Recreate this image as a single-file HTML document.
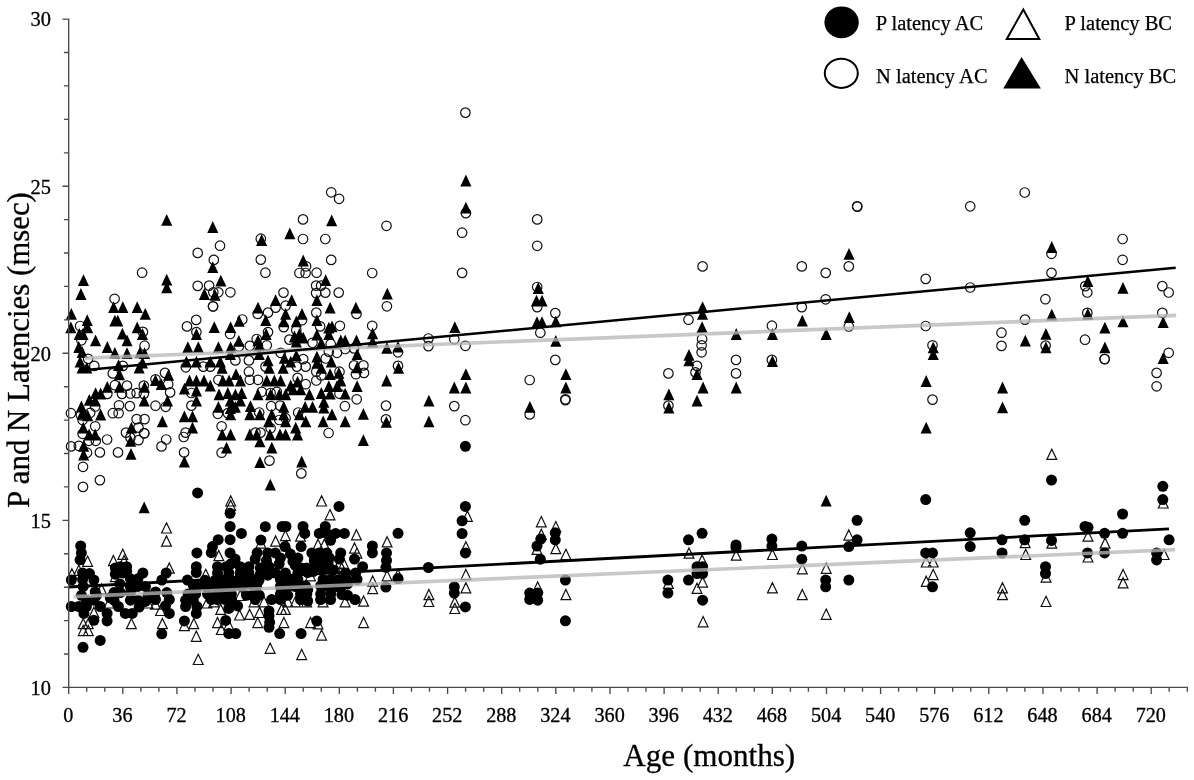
<!DOCTYPE html>
<html lang="en"><head><meta charset="utf-8"><title>P and N Latencies vs Age</title>
<style>html,body{margin:0;padding:0;background:#fff}body{width:1194px;height:780px;overflow:hidden}svg{display:block}</style></head>
<body>
<svg width="1194" height="780" viewBox="0 0 1194 780">
<rect width="1194" height="780" fill="#fff"/>
<path fill="#fff" stroke="#111" stroke-width="1.2" stroke-linejoin="miter" d="M1051.8 449.2L1056.7 459.4H1046.9ZM398 569.4L402.9 579.6H393.1ZM428.9 589.5L433.8 599.7H424ZM428.9 596.3L433.8 606.5H424ZM467.4 511.1L472.3 521.3H462.5ZM465.9 541.7L470.8 551.9H461ZM465.9 569.4L470.8 579.6H461ZM465.9 582.7L470.8 592.9H461ZM454.8 597L459.7 607.2H449.9ZM454.8 603.3L459.7 613.5H449.9ZM541.3 516.6L546.2 526.8H536.4ZM541.3 529.2L546.2 539.4H536.4ZM537 544.2L541.9 554.4H532.1ZM555.8 521.6L560.7 531.8H550.9ZM555.8 543.5L560.7 553.7H550.9ZM565.9 549.3L570.8 559.5H561ZM565.9 589.5L570.8 599.7H561ZM537.7 581.9L542.6 592.1H532.8ZM668.4 578.2L673.3 588.4H663.5ZM689 548L693.9 558.2H684.1ZM702.1 555L707 565.2H697.2ZM702.6 576.9L707.5 587.1H697.7ZM697 583.2L701.9 593.4H692.1ZM703.1 616.6L708 626.8H698.2ZM736.2 550L741.1 560.2H731.3ZM772.4 549.3L777.3 559.5H767.5ZM772.4 582.7L777.3 592.9H767.5ZM802.3 563.6L807.2 573.8H797.4ZM802.3 589.5L807.2 599.7H797.4ZM826.2 563.1L831.1 573.3H821.3ZM826.2 609.1L831.1 619.3H821.3ZM848.8 529.9L853.7 540.1H843.9ZM926.2 556.8L931.1 567H921.3ZM933.2 556.8L938.1 567H928.3ZM933.2 569.4L938.1 579.6H928.3ZM926.2 576.2L931.1 586.4H921.3ZM1002.5 582.7L1007.4 592.9H997.6ZM1002.5 589.5L1007.4 599.7H997.6ZM1025.2 537.5L1030.1 547.7H1020.3ZM1025.7 549.3L1030.6 559.5H1020.8ZM1051.8 538L1056.7 548.2H1046.9ZM1046 571.9L1050.9 582.1H1041.1ZM1046 596.3L1050.9 606.5H1041.1ZM1088 530.9L1092.9 541.1H1083.1ZM1088 551.8L1092.9 562H1083.1ZM1105.1 538L1110 548.2H1100.2ZM1123.1 569.4L1128 579.6H1118.2ZM1123.1 577.7L1128 587.9H1118.2ZM1163.3 497.8L1168.2 508H1158.4ZM1164.1 549.3L1169 559.5H1159.2ZM166.5 522.8L171.4 533H161.6ZM166.5 536L171.4 546.2H161.6ZM87.6 556.1L92.5 566.3H82.7ZM113.4 555.5L118.3 565.7H108.5ZM122.8 549.2L127.7 559.4H117.9ZM124.1 555.5L129 565.7H119.2ZM169.3 563L174.2 573.2H164.4ZM71.9 568.7L76.8 578.9H67ZM205.7 569.3L210.6 579.5H200.8ZM78.8 565.1L83.7 575.3H73.9ZM101.5 584L106.4 594.2H96.6ZM115.3 571.4L120.2 581.6H110.4ZM209.5 578.9L214.4 589.1H204.6ZM109 597.8L113.9 608H104.1ZM147.9 597.8L152.8 608H143ZM155.5 599L160.4 609.2H150.6ZM93.9 607.2L98.8 617.4H89ZM160.5 605.3L165.4 615.5H155.6ZM207 597.8L211.9 608H202.1ZM83.2 618.5L88.1 628.7H78.3ZM88.3 618.5L93.2 628.7H83.4ZM131.4 618.5L136.3 628.7H126.5ZM162.4 618.5L167.3 628.7H157.5ZM193.8 618.5L198.7 628.7H188.9ZM184.4 620.4L189.3 630.6H179.5ZM83.2 625.4L88.1 635.6H78.3ZM88.3 625.4L93.2 635.6H83.4ZM196.3 631.1L201.2 641.3H191.4ZM198.2 654.3L203.1 664.5H193.3ZM230.7 495.8L235.6 506H225.8ZM230.7 500.2L235.6 510.4H225.8ZM218.8 550.5L223.7 560.7H213.9ZM260.9 537.9L265.8 548.1H256ZM275.6 536L280.5 546.2H270.7ZM285.4 530.4L290.3 540.6H280.5ZM300.5 531L305.4 541.2H295.6ZM286.6 540.4L291.5 550.6H281.7ZM321.6 495.8L326.5 506H316.7ZM330 509.6L334.9 519.8H325.1ZM356.4 529.7L361.3 539.9H351.5ZM354.5 542.9L359.4 553.1H349.6ZM318 539.2L322.9 549.4H313.1ZM324.3 539.2L329.2 549.4H319.4ZM339.4 558L344.3 568.2H334.5ZM357 548L361.9 558.2H352.1ZM310.5 570.6L315.4 580.8H305.6ZM336.9 565.6L341.8 575.8H332ZM213.8 596.6L218.7 606.8H208.9ZM240.2 590.3L245.1 600.5H235.3ZM254 596.6L258.9 606.8H249.1ZM264 596.6L268.9 606.8H259.1ZM287.9 596.6L292.8 606.8H283ZM295.4 596.6L300.3 606.8H290.5ZM306.7 596.6L311.6 606.8H301.8ZM323.1 596.6L328 606.8H318.2ZM345.1 596.6L350 606.8H340.2ZM220.7 604.2L225.6 614.4H215.8ZM239.5 609.8L244.4 620H234.6ZM249.6 609.2L254.5 619.4H244.7ZM259.6 607.3L264.5 617.5H254.7ZM281.6 604.2L286.5 614.4H276.7ZM285.4 604.2L290.3 614.4H280.5ZM217.5 617.4L222.4 627.6H212.6ZM228.8 619.9L233.7 630.1H223.9ZM221.3 624.3L226.2 634.5H216.4ZM257.7 617.4L262.6 627.6H252.8ZM283.9 617.4L288.8 627.6H279ZM310.5 617.4L315.4 627.6H305.6ZM318 618.6L322.9 628.8H313.1ZM321.6 629.9L326.5 640.1H316.7ZM270.1 643.1L275 653.3H265.2ZM301.7 649.4L306.6 659.6H296.8ZM387.1 536.7L392 546.9H382.2ZM343.8 558.6L348.7 568.8H338.9ZM387.1 570.6L392 580.8H382.2ZM372.7 575.9L377.6 586.1H367.8ZM372.7 583.4L377.6 593.6H367.8ZM363.6 596L368.5 606.2H358.7ZM363.6 617.4L368.5 627.6H358.7Z"/>
<g fill="#000"><circle cx="465.4" cy="446.3" r="5.5"/><circle cx="398" cy="533.3" r="5.5"/><circle cx="398" cy="578.5" r="5.5"/><circle cx="428.4" cy="567.5" r="5.5"/><circle cx="465.4" cy="506.4" r="5.5"/><circle cx="462.1" cy="520.8" r="5.5"/><circle cx="462.1" cy="533.6" r="5.5"/><circle cx="465.4" cy="552.9" r="5.5"/><circle cx="454.3" cy="586.8" r="5.5"/><circle cx="454.3" cy="593.1" r="5.5"/><circle cx="465.4" cy="606.9" r="5.5"/><circle cx="540.8" cy="539.1" r="5.5"/><circle cx="537" cy="546.1" r="5.5"/><circle cx="540.3" cy="559.2" r="5.5"/><circle cx="555.3" cy="532.8" r="5.5"/><circle cx="555.3" cy="539.8" r="5.5"/><circle cx="565.4" cy="580.1" r="5.5"/><circle cx="565.4" cy="620.8" r="5.5"/><circle cx="529.7" cy="593.1" r="5.5"/><circle cx="537.7" cy="593.1" r="5.5"/><circle cx="529.7" cy="599.4" r="5.5"/><circle cx="537.7" cy="600.2" r="5.5"/><circle cx="667.9" cy="580.1" r="5.5"/><circle cx="667.9" cy="593.1" r="5.5"/><circle cx="688.5" cy="539.8" r="5.5"/><circle cx="688.5" cy="580.1" r="5.5"/><circle cx="702.1" cy="533.3" r="5.5"/><circle cx="697" cy="566.7" r="5.5"/><circle cx="702.6" cy="566.7" r="5.5"/><circle cx="697" cy="573.5" r="5.5"/><circle cx="702.6" cy="573.5" r="5.5"/><circle cx="702.6" cy="600.2" r="5.5"/><circle cx="736" cy="544.9" r="5.5"/><circle cx="736" cy="547.4" r="5.5"/><circle cx="771.9" cy="539.1" r="5.5"/><circle cx="771.9" cy="546.1" r="5.5"/><circle cx="801.8" cy="546.1" r="5.5"/><circle cx="801.8" cy="559.2" r="5.5"/><circle cx="825.7" cy="580.1" r="5.5"/><circle cx="825.7" cy="586.8" r="5.5"/><circle cx="857.1" cy="520.3" r="5.5"/><circle cx="857.1" cy="539.8" r="5.5"/><circle cx="848.8" cy="546.6" r="5.5"/><circle cx="848.8" cy="580.1" r="5.5"/><circle cx="925.7" cy="499.6" r="5.5"/><circle cx="925.7" cy="552.9" r="5.5"/><circle cx="932.5" cy="552.9" r="5.5"/><circle cx="932.5" cy="586.8" r="5.5"/><circle cx="970.2" cy="532.8" r="5.5"/><circle cx="970.2" cy="546.6" r="5.5"/><circle cx="1002" cy="539.8" r="5.5"/><circle cx="1002" cy="552.9" r="5.5"/><circle cx="1024.7" cy="520.3" r="5.5"/><circle cx="1024.7" cy="539.8" r="5.5"/><circle cx="1051.5" cy="480.1" r="5.5"/><circle cx="1051.5" cy="540.4" r="5.5"/><circle cx="1045.5" cy="566.7" r="5.5"/><circle cx="1045.5" cy="573.5" r="5.5"/><circle cx="1085" cy="526.5" r="5.5"/><circle cx="1088" cy="527.3" r="5.5"/><circle cx="1087.5" cy="552.9" r="5.5"/><circle cx="1104.6" cy="533.3" r="5.5"/><circle cx="1104.6" cy="552.9" r="5.5"/><circle cx="1122.6" cy="514" r="5.5"/><circle cx="1122.6" cy="533.3" r="5.5"/><circle cx="1162.8" cy="486.3" r="5.5"/><circle cx="1162.8" cy="499.6" r="5.5"/><circle cx="1169.1" cy="539.8" r="5.5"/><circle cx="1156.6" cy="552.9" r="5.5"/><circle cx="1156.6" cy="559.9" r="5.5"/><circle cx="197.6" cy="492.9" r="5.5"/><circle cx="80.7" cy="546" r="5.5"/><circle cx="81.4" cy="552.9" r="5.5"/><circle cx="80.1" cy="559.8" r="5.5"/><circle cx="196.9" cy="552.9" r="5.5"/><circle cx="196.3" cy="566.7" r="5.5"/><circle cx="166.2" cy="573" r="5.5"/><circle cx="142.9" cy="573" r="5.5"/><circle cx="115.3" cy="567.9" r="5.5"/><circle cx="120.3" cy="566.7" r="5.5"/><circle cx="126.6" cy="566.7" r="5.5"/><circle cx="115.3" cy="574.2" r="5.5"/><circle cx="122.8" cy="573" r="5.5"/><circle cx="82.6" cy="573" r="5.5"/><circle cx="89.5" cy="573.6" r="5.5"/><circle cx="71.3" cy="580.1" r="5.5"/><circle cx="82.6" cy="579.4" r="5.5"/><circle cx="93.9" cy="580.1" r="5.5"/><circle cx="83.2" cy="586.4" r="5.5"/><circle cx="95.2" cy="592" r="5.5"/><circle cx="126.6" cy="571.3" r="5.5"/><circle cx="130.4" cy="578.8" r="5.5"/><circle cx="137.9" cy="578.8" r="5.5"/><circle cx="130.4" cy="586.4" r="5.5"/><circle cx="137.9" cy="586.4" r="5.5"/><circle cx="145.4" cy="586.4" r="5.5"/><circle cx="161.8" cy="580.1" r="5.5"/><circle cx="187.5" cy="580.1" r="5.5"/><circle cx="196.3" cy="572.5" r="5.5"/><circle cx="193.2" cy="585.1" r="5.5"/><circle cx="198.2" cy="586.4" r="5.5"/><circle cx="114" cy="592.6" r="5.5"/><circle cx="120.3" cy="592.6" r="5.5"/><circle cx="155.5" cy="592" r="5.5"/><circle cx="166.8" cy="592.6" r="5.5"/><circle cx="188.1" cy="593.9" r="5.5"/><circle cx="195.7" cy="593.9" r="5.5"/><circle cx="93.9" cy="600.2" r="5.5"/><circle cx="86.4" cy="600.2" r="5.5"/><circle cx="114" cy="600.2" r="5.5"/><circle cx="130.4" cy="600.2" r="5.5"/><circle cx="137.9" cy="600.2" r="5.5"/><circle cx="145.4" cy="601.4" r="5.5"/><circle cx="155.5" cy="599.5" r="5.5"/><circle cx="169.3" cy="599.5" r="5.5"/><circle cx="185.6" cy="600.2" r="5.5"/><circle cx="193.2" cy="600.2" r="5.5"/><circle cx="71.3" cy="606.5" r="5.5"/><circle cx="78.8" cy="606.5" r="5.5"/><circle cx="86.4" cy="606.5" r="5.5"/><circle cx="100.2" cy="606.5" r="5.5"/><circle cx="118.4" cy="606.5" r="5.5"/><circle cx="139.1" cy="607.1" r="5.5"/><circle cx="165.5" cy="605.8" r="5.5"/><circle cx="185.6" cy="606.5" r="5.5"/><circle cx="196.9" cy="606.5" r="5.5"/><circle cx="83.9" cy="613.4" r="5.5"/><circle cx="107.1" cy="613.4" r="5.5"/><circle cx="125.3" cy="613.4" r="5.5"/><circle cx="132.2" cy="613.4" r="5.5"/><circle cx="169.3" cy="613.4" r="5.5"/><circle cx="196.3" cy="613.4" r="5.5"/><circle cx="93.9" cy="620.3" r="5.5"/><circle cx="107.1" cy="620.9" r="5.5"/><circle cx="184.4" cy="620.9" r="5.5"/><circle cx="161.8" cy="633.8" r="5.5"/><circle cx="100.2" cy="640.4" r="5.5"/><circle cx="83" cy="647.3" r="5.5"/><circle cx="230.1" cy="513.3" r="5.5"/><circle cx="230.1" cy="526.5" r="5.5"/><circle cx="241.4" cy="533.4" r="5.5"/><circle cx="230.1" cy="539.7" r="5.5"/><circle cx="218.2" cy="539.7" r="5.5"/><circle cx="212.5" cy="546.6" r="5.5"/><circle cx="230.1" cy="552.9" r="5.5"/><circle cx="235.1" cy="559.1" r="5.5"/><circle cx="265.3" cy="526.7" r="5.5"/><circle cx="260.9" cy="540.1" r="5.5"/><circle cx="282.2" cy="526.5" r="5.5"/><circle cx="286" cy="526.5" r="5.5"/><circle cx="303" cy="526.5" r="5.5"/><circle cx="304.8" cy="533.4" r="5.5"/><circle cx="285" cy="546.6" r="5.5"/><circle cx="301.1" cy="546.6" r="5.5"/><circle cx="325.3" cy="526.5" r="5.5"/><circle cx="319.3" cy="533.4" r="5.5"/><circle cx="326.8" cy="533.4" r="5.5"/><circle cx="335.6" cy="533.4" r="5.5"/><circle cx="344.4" cy="533.4" r="5.5"/><circle cx="330.6" cy="540.3" r="5.5"/><circle cx="339" cy="506.4" r="5.5"/><circle cx="340.7" cy="552.9" r="5.5"/><circle cx="257.1" cy="552.9" r="5.5"/><circle cx="267.8" cy="552.9" r="5.5"/><circle cx="275.3" cy="552.9" r="5.5"/><circle cx="255.2" cy="559.1" r="5.5"/><circle cx="266.5" cy="560.4" r="5.5"/><circle cx="280.4" cy="557.9" r="5.5"/><circle cx="290.4" cy="554.1" r="5.5"/><circle cx="297.9" cy="557.9" r="5.5"/><circle cx="311.8" cy="552.9" r="5.5"/><circle cx="319.3" cy="552.9" r="5.5"/><circle cx="326.8" cy="552.9" r="5.5"/><circle cx="329.3" cy="557.9" r="5.5"/><circle cx="314.3" cy="560.4" r="5.5"/><circle cx="321.8" cy="561.7" r="5.5"/><circle cx="339.4" cy="559.1" r="5.5"/><circle cx="354.5" cy="559.1" r="5.5"/><circle cx="217.5" cy="566.7" r="5.5"/><circle cx="226.3" cy="566.7" r="5.5"/><circle cx="240.2" cy="566.7" r="5.5"/><circle cx="248.9" cy="566.7" r="5.5"/><circle cx="217.5" cy="573" r="5.5"/><circle cx="228.8" cy="573" r="5.5"/><circle cx="240.2" cy="573" r="5.5"/><circle cx="248.9" cy="573" r="5.5"/><circle cx="260.3" cy="567.9" r="5.5"/><circle cx="269" cy="566.7" r="5.5"/><circle cx="260.3" cy="574.2" r="5.5"/><circle cx="275.3" cy="573" r="5.5"/><circle cx="285.4" cy="573" r="5.5"/><circle cx="295.4" cy="565.4" r="5.5"/><circle cx="297.9" cy="573" r="5.5"/><circle cx="306.7" cy="567.9" r="5.5"/><circle cx="314.3" cy="567.9" r="5.5"/><circle cx="323.1" cy="569.2" r="5.5"/><circle cx="329.3" cy="567.9" r="5.5"/><circle cx="345.7" cy="573" r="5.5"/><circle cx="355.7" cy="573" r="5.5"/><circle cx="221.3" cy="579.5" r="5.5"/><circle cx="238.9" cy="579.5" r="5.5"/><circle cx="254" cy="579.5" r="5.5"/><circle cx="280.4" cy="579.5" r="5.5"/><circle cx="290.4" cy="579.5" r="5.5"/><circle cx="297.9" cy="579.5" r="5.5"/><circle cx="323.1" cy="579.5" r="5.5"/><circle cx="330.6" cy="579.5" r="5.5"/><circle cx="339.4" cy="579.5" r="5.5"/><circle cx="346.9" cy="579.5" r="5.5"/><circle cx="357" cy="579.5" r="5.5"/><circle cx="215" cy="585.8" r="5.5"/><circle cx="252.7" cy="585.8" r="5.5"/><circle cx="300.5" cy="585.8" r="5.5"/><circle cx="305.5" cy="585.8" r="5.5"/><circle cx="320.6" cy="585.8" r="5.5"/><circle cx="341.9" cy="585.8" r="5.5"/><circle cx="211.3" cy="599.6" r="5.5"/><circle cx="217.5" cy="599.6" r="5.5"/><circle cx="225.1" cy="599.6" r="5.5"/><circle cx="231.4" cy="599.6" r="5.5"/><circle cx="255.2" cy="599.6" r="5.5"/><circle cx="271.6" cy="599.6" r="5.5"/><circle cx="280.4" cy="599.6" r="5.5"/><circle cx="284.1" cy="593.4" r="5.5"/><circle cx="300.5" cy="599.6" r="5.5"/><circle cx="320.6" cy="599.6" r="5.5"/><circle cx="330.6" cy="599.6" r="5.5"/><circle cx="355.1" cy="599.6" r="5.5"/><circle cx="237.6" cy="605.9" r="5.5"/><circle cx="228.8" cy="608.4" r="5.5"/><circle cx="269" cy="610.9" r="5.5"/><circle cx="269" cy="616" r="5.5"/><circle cx="269.7" cy="622.3" r="5.5"/><circle cx="269" cy="627.3" r="5.5"/><circle cx="225.7" cy="620.4" r="5.5"/><circle cx="316.8" cy="621" r="5.5"/><circle cx="228.8" cy="633.6" r="5.5"/><circle cx="235.8" cy="633.6" r="5.5"/><circle cx="279.7" cy="633.6" r="5.5"/><circle cx="301.1" cy="633.6" r="5.5"/><circle cx="372.4" cy="546" r="5.5"/><circle cx="372.4" cy="552.9" r="5.5"/><circle cx="386.5" cy="552.9" r="5.5"/><circle cx="386.5" cy="560.4" r="5.5"/><circle cx="385.9" cy="567.3" r="5.5"/><circle cx="362.6" cy="566.7" r="5.5"/><circle cx="341.9" cy="594.6" r="5.5"/><circle cx="385.9" cy="587.1" r="5.5"/><circle cx="207.5" cy="586.5" r="5.5"/><circle cx="225.1" cy="586.5" r="5.5"/><circle cx="232.7" cy="586.5" r="5.5"/><circle cx="241.5" cy="586.5" r="5.5"/><circle cx="256.5" cy="586.5" r="5.5"/><circle cx="280.4" cy="586.5" r="5.5"/><circle cx="287.9" cy="586.5" r="5.5"/><circle cx="295.5" cy="586.5" r="5.5"/><circle cx="328.1" cy="586.5" r="5.5"/><circle cx="336.9" cy="586.5" r="5.5"/><circle cx="205" cy="580.3" r="5.5"/><circle cx="230.2" cy="580.3" r="5.5"/><circle cx="250.3" cy="580.3" r="5.5"/><circle cx="259" cy="580.3" r="5.5"/><circle cx="207.5" cy="594.1" r="5.5"/><circle cx="217.6" cy="594.1" r="5.5"/><circle cx="225.1" cy="594.1" r="5.5"/><circle cx="231.4" cy="594.1" r="5.5"/><circle cx="254" cy="594.1" r="5.5"/><circle cx="280.4" cy="594.1" r="5.5"/><circle cx="300.5" cy="594.1" r="5.5"/><circle cx="306.8" cy="594.1" r="5.5"/><circle cx="320.6" cy="594.1" r="5.5"/><circle cx="330.7" cy="594.1" r="5.5"/><circle cx="328.1" cy="562.7" r="5.5"/><circle cx="300.5" cy="567.7" r="5.5"/><circle cx="333.2" cy="570.2" r="5.5"/><circle cx="313.1" cy="571.5" r="5.5"/><circle cx="244" cy="571.5" r="5.5"/><circle cx="215.1" cy="580.3" r="5.5"/><circle cx="231.4" cy="580.3" r="5.5"/><circle cx="267.8" cy="575.2" r="5.5"/><circle cx="211.3" cy="552.6" r="5.5"/><circle cx="293" cy="561.4" r="5.5"/><circle cx="81.4" cy="595.3" r="5.5"/><circle cx="96.5" cy="595.3" r="5.5"/><circle cx="110.3" cy="597.8" r="5.5"/><circle cx="130.4" cy="592.8" r="5.5"/><circle cx="148" cy="595.3" r="5.5"/><circle cx="246.5" cy="583.9" r="5.5"/><circle cx="246.5" cy="595.3" r="5.5"/><circle cx="259.3" cy="595.3" r="5.5"/><circle cx="279.2" cy="564" r="5.5"/><circle cx="287.8" cy="595.3" r="5.5"/><circle cx="307.7" cy="572.5" r="5.5"/><circle cx="307.7" cy="589.6" r="5.5"/><circle cx="307.7" cy="601" r="5.5"/><circle cx="317.7" cy="564" r="5.5"/><circle cx="347.6" cy="583.9" r="5.5"/><circle cx="347.6" cy="595.3" r="5.5"/><circle cx="230.8" cy="564" r="5.5"/><circle cx="219.5" cy="583.9" r="5.5"/><circle cx="131.2" cy="589.6" r="5.5"/><circle cx="119.8" cy="583.9" r="5.5"/></g>
<g fill="none" stroke="#111" stroke-width="1.2"><circle cx="465.4" cy="112.6" r="4.75"/><circle cx="465.9" cy="213.1" r="4.75"/><circle cx="462.1" cy="232.7" r="4.75"/><circle cx="462.1" cy="272.9" r="4.75"/><circle cx="537.2" cy="219.4" r="4.75"/><circle cx="537.2" cy="245.8" r="4.75"/><circle cx="398" cy="352.3" r="4.75"/><circle cx="398" cy="365.9" r="4.75"/><circle cx="428.4" cy="338.5" r="4.75"/><circle cx="428.4" cy="346.1" r="4.75"/><circle cx="454.3" cy="339.3" r="4.75"/><circle cx="454.3" cy="406.1" r="4.75"/><circle cx="465.4" cy="345.8" r="4.75"/><circle cx="465.4" cy="420.2" r="4.75"/><circle cx="537.2" cy="287" r="4.75"/><circle cx="537.2" cy="307.1" r="4.75"/><circle cx="540.3" cy="332.7" r="4.75"/><circle cx="555.3" cy="313.1" r="4.75"/><circle cx="555.3" cy="359.9" r="4.75"/><circle cx="529.7" cy="380" r="4.75"/><circle cx="529.7" cy="414.4" r="4.75"/><circle cx="565.4" cy="399.3" r="4.75"/><circle cx="565.4" cy="400.1" r="4.75"/><circle cx="668.4" cy="373.4" r="4.75"/><circle cx="668.4" cy="405.6" r="4.75"/><circle cx="688.5" cy="319.7" r="4.75"/><circle cx="857.1" cy="206.3" r="4.75"/><circle cx="857.3" cy="206.6" r="4.75"/><circle cx="970.2" cy="206.3" r="4.75"/><circle cx="702.6" cy="266.4" r="4.75"/><circle cx="801.8" cy="266.4" r="4.75"/><circle cx="825.7" cy="272.9" r="4.75"/><circle cx="848.8" cy="266.4" r="4.75"/><circle cx="925.7" cy="278.9" r="4.75"/><circle cx="702.1" cy="339" r="4.75"/><circle cx="701.6" cy="345.3" r="4.75"/><circle cx="701.6" cy="352.3" r="4.75"/><circle cx="697" cy="365.9" r="4.75"/><circle cx="695.5" cy="372.4" r="4.75"/><circle cx="736" cy="359.9" r="4.75"/><circle cx="736" cy="373.4" r="4.75"/><circle cx="771.9" cy="325.7" r="4.75"/><circle cx="771.9" cy="359.9" r="4.75"/><circle cx="801.8" cy="307.1" r="4.75"/><circle cx="825.7" cy="299.3" r="4.75"/><circle cx="848.8" cy="326.5" r="4.75"/><circle cx="925.7" cy="326" r="4.75"/><circle cx="932.5" cy="345.3" r="4.75"/><circle cx="932.5" cy="399.6" r="4.75"/><circle cx="970.2" cy="287.5" r="4.75"/><circle cx="1024.7" cy="192.5" r="4.75"/><circle cx="1051.5" cy="253.8" r="4.75"/><circle cx="1051.5" cy="272.9" r="4.75"/><circle cx="1122.6" cy="239" r="4.75"/><circle cx="1122.6" cy="259.8" r="4.75"/><circle cx="1085.3" cy="286.1" r="4.75"/><circle cx="1087.3" cy="292.5" r="4.75"/><circle cx="1162.3" cy="286.1" r="4.75"/><circle cx="1168.7" cy="292.5" r="4.75"/><circle cx="1045.4" cy="299.2" r="4.75"/><circle cx="1087.3" cy="312.9" r="4.75"/><circle cx="1162.3" cy="312.9" r="4.75"/><circle cx="1025" cy="319.6" r="4.75"/><circle cx="1001.5" cy="332.7" r="4.75"/><circle cx="1001.5" cy="345.9" r="4.75"/><circle cx="1045.6" cy="345.6" r="4.75"/><circle cx="1085" cy="339.7" r="4.75"/><circle cx="1104.6" cy="359" r="4.75"/><circle cx="1104.7" cy="359.1" r="4.75"/><circle cx="1168.7" cy="352.8" r="4.75"/><circle cx="1156.6" cy="372.9" r="4.75"/><circle cx="1156.6" cy="386.3" r="4.75"/><circle cx="220" cy="245.7" r="4.75"/><circle cx="197.7" cy="252.9" r="4.75"/><circle cx="213.8" cy="259.9" r="4.75"/><circle cx="142.1" cy="272.7" r="4.75"/><circle cx="197.7" cy="285.9" r="4.75"/><circle cx="209.1" cy="285.6" r="4.75"/><circle cx="230.4" cy="292.3" r="4.75"/><circle cx="213.3" cy="292.3" r="4.75"/><circle cx="218.3" cy="292.3" r="4.75"/><circle cx="331.2" cy="192.3" r="4.75"/><circle cx="339.1" cy="198.8" r="4.75"/><circle cx="303" cy="219.4" r="4.75"/><circle cx="386.5" cy="225.8" r="4.75"/><circle cx="260.8" cy="238.7" r="4.75"/><circle cx="303" cy="239" r="4.75"/><circle cx="325.3" cy="239" r="4.75"/><circle cx="260.8" cy="259.6" r="4.75"/><circle cx="331.2" cy="259.9" r="4.75"/><circle cx="306.1" cy="266.3" r="4.75"/><circle cx="265.4" cy="272.7" r="4.75"/><circle cx="299.4" cy="273" r="4.75"/><circle cx="305.6" cy="273" r="4.75"/><circle cx="316.6" cy="272.7" r="4.75"/><circle cx="372.2" cy="273" r="4.75"/><circle cx="316.1" cy="285.6" r="4.75"/><circle cx="321.1" cy="285.6" r="4.75"/><circle cx="283.5" cy="292.6" r="4.75"/><circle cx="316.1" cy="293.1" r="4.75"/><circle cx="325.3" cy="292.6" r="4.75"/><circle cx="338.7" cy="292.6" r="4.75"/><circle cx="114.6" cy="298.8" r="4.75"/><circle cx="80.1" cy="326" r="4.75"/><circle cx="142.9" cy="331.9" r="4.75"/><circle cx="81.4" cy="340.3" r="4.75"/><circle cx="144.6" cy="345.7" r="4.75"/><circle cx="88.1" cy="358.8" r="4.75"/><circle cx="94.3" cy="365.9" r="4.75"/><circle cx="122.8" cy="365.9" r="4.75"/><circle cx="112.8" cy="373.4" r="4.75"/><circle cx="155.5" cy="379.3" r="4.75"/><circle cx="114.9" cy="385.2" r="4.75"/><circle cx="127" cy="385.6" r="4.75"/><circle cx="143.8" cy="385.6" r="4.75"/><circle cx="107.3" cy="393.9" r="4.75"/><circle cx="122" cy="393.9" r="4.75"/><circle cx="130.4" cy="393.5" r="4.75"/><circle cx="136.6" cy="393.1" r="4.75"/><circle cx="143.8" cy="393.9" r="4.75"/><circle cx="95.2" cy="406.5" r="4.75"/><circle cx="119" cy="405.3" r="4.75"/><circle cx="129.9" cy="406.1" r="4.75"/><circle cx="155.5" cy="405.7" r="4.75"/><circle cx="70.9" cy="413.2" r="4.75"/><circle cx="80.9" cy="415.3" r="4.75"/><circle cx="90.2" cy="412.8" r="4.75"/><circle cx="112.8" cy="413.2" r="4.75"/><circle cx="118.6" cy="413.2" r="4.75"/><circle cx="136.6" cy="419.1" r="4.75"/><circle cx="144.6" cy="419.1" r="4.75"/><circle cx="82.6" cy="420" r="4.75"/><circle cx="95.2" cy="426.3" r="4.75"/><circle cx="82.6" cy="433.8" r="4.75"/><circle cx="107.1" cy="439.5" r="4.75"/><circle cx="88.9" cy="440.8" r="4.75"/><circle cx="95.8" cy="440.8" r="4.75"/><circle cx="71.1" cy="446.4" r="4.75"/><circle cx="78.8" cy="445.8" r="4.75"/><circle cx="87" cy="452.7" r="4.75"/><circle cx="99.9" cy="452.4" r="4.75"/><circle cx="118" cy="452.4" r="4.75"/><circle cx="83" cy="466.8" r="4.75"/><circle cx="99.9" cy="480.1" r="4.75"/><circle cx="83" cy="486.9" r="4.75"/><circle cx="138.5" cy="427.6" r="4.75"/><circle cx="126" cy="432.6" r="4.75"/><circle cx="144.2" cy="433.2" r="4.75"/><circle cx="144.3" cy="433.3" r="4.75"/><circle cx="130.4" cy="437.6" r="4.75"/><circle cx="138.5" cy="440.1" r="4.75"/><circle cx="166.2" cy="439.5" r="4.75"/><circle cx="161.5" cy="446.4" r="4.75"/><circle cx="185.6" cy="432.6" r="4.75"/><circle cx="183.7" cy="437" r="4.75"/><circle cx="184.1" cy="452.4" r="4.75"/><circle cx="213" cy="306.3" r="4.75"/><circle cx="213.1" cy="306.5" r="4.75"/><circle cx="275.6" cy="307.6" r="4.75"/><circle cx="285.6" cy="305.7" r="4.75"/><circle cx="257.7" cy="313.9" r="4.75"/><circle cx="268" cy="312.6" r="4.75"/><circle cx="302" cy="320.2" r="4.75"/><circle cx="283.7" cy="327.1" r="4.75"/><circle cx="196.2" cy="319.9" r="4.75"/><circle cx="187" cy="326.4" r="4.75"/><circle cx="242.3" cy="319.5" r="4.75"/><circle cx="230.1" cy="334" r="4.75"/><circle cx="196.4" cy="332.1" r="4.75"/><circle cx="268" cy="332.1" r="4.75"/><circle cx="238.9" cy="346.5" r="4.75"/><circle cx="256.7" cy="339" r="4.75"/><circle cx="289.4" cy="339.6" r="4.75"/><circle cx="296.3" cy="330.2" r="4.75"/><circle cx="249.8" cy="345.9" r="4.75"/><circle cx="266.8" cy="345.3" r="4.75"/><circle cx="280.6" cy="352.8" r="4.75"/><circle cx="185.8" cy="367.3" r="4.75"/><circle cx="203.3" cy="366.6" r="4.75"/><circle cx="210.3" cy="366.6" r="4.75"/><circle cx="235.4" cy="360.4" r="4.75"/><circle cx="248.9" cy="360.4" r="4.75"/><circle cx="265.5" cy="366.6" r="4.75"/><circle cx="303.2" cy="359.1" r="4.75"/><circle cx="296.9" cy="366.6" r="4.75"/><circle cx="305.7" cy="366.6" r="4.75"/><circle cx="165" cy="372.9" r="4.75"/><circle cx="168.2" cy="384.2" r="4.75"/><circle cx="218.4" cy="379.8" r="4.75"/><circle cx="248.9" cy="371.7" r="4.75"/><circle cx="249.8" cy="379.8" r="4.75"/><circle cx="258" cy="379.8" r="4.75"/><circle cx="297.6" cy="377.9" r="4.75"/><circle cx="305.7" cy="384.2" r="4.75"/><circle cx="316.3" cy="312.6" r="4.75"/><circle cx="356.5" cy="313.9" r="4.75"/><circle cx="386.9" cy="306.3" r="4.75"/><circle cx="320.1" cy="326.4" r="4.75"/><circle cx="339.9" cy="325.8" r="4.75"/><circle cx="372.2" cy="325.8" r="4.75"/><circle cx="312.5" cy="342.8" r="4.75"/><circle cx="330.7" cy="344" r="4.75"/><circle cx="345.2" cy="349" r="4.75"/><circle cx="354" cy="348.4" r="4.75"/><circle cx="337" cy="352.8" r="4.75"/><circle cx="328.8" cy="351.6" r="4.75"/><circle cx="325.7" cy="358.5" r="4.75"/><circle cx="354" cy="365.4" r="4.75"/><circle cx="363.4" cy="365.4" r="4.75"/><circle cx="355.9" cy="374.2" r="4.75"/><circle cx="364" cy="372.9" r="4.75"/><circle cx="316.3" cy="371.7" r="4.75"/><circle cx="339.5" cy="371.7" r="4.75"/><circle cx="316.3" cy="380.5" r="4.75"/><circle cx="321.3" cy="375.4" r="4.75"/><circle cx="170.1" cy="392.4" r="4.75"/><circle cx="165.7" cy="406.8" r="4.75"/><circle cx="191.4" cy="393" r="4.75"/><circle cx="191.4" cy="405.6" r="4.75"/><circle cx="217.8" cy="413.8" r="4.75"/><circle cx="227.8" cy="413.1" r="4.75"/><circle cx="259.2" cy="412.5" r="4.75"/><circle cx="261.8" cy="391.8" r="4.75"/><circle cx="270.6" cy="393" r="4.75"/><circle cx="276.8" cy="391.8" r="4.75"/><circle cx="271.2" cy="406.2" r="4.75"/><circle cx="280" cy="405.6" r="4.75"/><circle cx="279.3" cy="420" r="4.75"/><circle cx="285.6" cy="418.2" r="4.75"/><circle cx="298.2" cy="412.5" r="4.75"/><circle cx="221.6" cy="426.3" r="4.75"/><circle cx="255.5" cy="432.6" r="4.75"/><circle cx="260.5" cy="432.6" r="4.75"/><circle cx="270.6" cy="428.2" r="4.75"/><circle cx="221.6" cy="452.7" r="4.75"/><circle cx="269.5" cy="460.6" r="4.75"/><circle cx="301.3" cy="473.4" r="4.75"/><circle cx="339.5" cy="393.7" r="4.75"/><circle cx="356.7" cy="399.3" r="4.75"/><circle cx="344.9" cy="406.2" r="4.75"/><circle cx="386" cy="405.6" r="4.75"/><circle cx="386" cy="419.4" r="4.75"/><circle cx="328.6" cy="433" r="4.75"/></g>
<path fill="#000" d="M465.9 174.6L471.4 186.4H460.3ZM465.9 201.7L471.4 213.5H460.3ZM398 340.7L403.6 352.5H392.5ZM398.5 362L404.1 373.8H393ZM428.9 394.7L434.5 406.5H423.4ZM428.9 415.5L434.5 427.3H423.4ZM454.8 321.3L460.4 333.1H449.3ZM454.3 381.6L459.9 393.4H448.8ZM465.9 368.3L471.4 380.1H460.3ZM465.9 381.6L471.4 393.4H460.3ZM538.2 282.1L543.8 293.9H532.7ZM536.5 294.7L542 306.5H530.9ZM542 294.7L547.6 306.5H536.5ZM537 316.3L542.5 328.1H531.4ZM542 316.3L547.6 328.1H536.5ZM555.8 315.5L561.4 327.3H550.3ZM555.8 334.9L561.4 346.7H550.3ZM529.9 401L535.5 412.8H524.4ZM565.9 368.3L571.4 380.1H560.3ZM565.9 381.6L571.4 393.4H560.3ZM668.9 388.4L674.4 400.2H663.3ZM668.9 401.7L674.4 413.5H663.3ZM689 348.9L694.5 360.7H683.4ZM689 354.5L694.5 366.3H683.4ZM849 247.9L854.6 259.7H843.5ZM702.6 301.2L708.1 313H697ZM702.6 308L708.1 319.8H697ZM702.1 321.3L707.6 333.1H696.5ZM697 368.3L702.6 380.1H691.5ZM703.1 381.6L708.6 393.4H697.5ZM697 394.7L702.6 406.5H691.5ZM736.2 328.1L741.8 339.9H730.7ZM736.2 381.6L741.8 393.4H730.7ZM772.4 328.1L778 339.9H766.9ZM772.4 355.2L778 367H766.9ZM802.3 314.8L807.9 326.6H796.8ZM826.2 328.1L831.7 339.9H820.6ZM849.3 311.3L854.8 323.1H843.7ZM933.2 341.4L938.8 353.2H927.7ZM933.2 348.2L938.8 360H927.7ZM926.2 375.1L931.7 386.9H920.6ZM926.2 421.8L931.7 433.6H920.6ZM1051.8 241.1L1057.3 252.9H1046.2ZM1087.8 275.2L1093.4 287H1082.3ZM1123 281.9L1128.5 293.7H1117.4ZM1051.8 308.7L1057.3 320.5H1046.2ZM1087.8 307.9L1093.4 319.7H1082.3ZM1123 315.4L1128.5 327.2H1117.4ZM1163.2 316.2L1168.7 328H1157.6ZM1104.9 321.8L1110.4 333.6H1099.3ZM1025.3 334.7L1030.9 346.5H1019.8ZM1045.9 328L1051.5 339.8H1040.4ZM1045.9 341.4L1051.5 353.2H1040.4ZM1104.9 341.4L1110.4 353.2H1099.3ZM1163.2 352.2L1168.7 364H1157.6ZM1002.5 381.6L1008.1 393.4H997ZM1002.5 401.5L1008.1 413.3H997ZM826.2 494.8L831.7 506.6H820.6ZM166.7 214L172.3 225.8H161.2ZM212.8 221.1L218.3 232.9H207.2ZM212.8 261.3L218.3 273.1H207.2ZM83.5 274.3L89 286.1H77.9ZM166.7 273.8L172.3 285.6H161.2ZM166.7 281.4L172.3 293.2H161.2ZM220.8 274.7L226.4 286.5H215.3ZM80.9 288.1L86.5 299.9H75.4ZM204.4 288.1L209.9 299.9H198.8ZM214.9 288.9L220.5 300.7H209.4ZM331.7 214.4L337.2 226.2H326.1ZM289.8 227.4L295.4 239.2H284.3ZM261.7 234.1L267.2 245.9H256.1ZM303.2 254.6L308.8 266.4H297.7ZM325.7 274.3L331.2 286.1H320.1ZM387.3 287.7L392.9 299.5H381.8ZM113.6 301.3L119.2 313.1H108.1ZM122.8 301.3L128.4 313.1H117.3ZM137.2 301.3L142.8 313.1H131.7ZM145.3 308L150.8 319.8H139.7ZM71.3 308L76.9 319.8H65.8ZM87.2 314.3L92.8 326.1H81.7ZM114.9 314.7L120.4 326.5H109.3ZM117.8 314.7L123.3 326.5H112.2ZM70.9 321.4L76.4 333.2H65.3ZM87.6 321.4L93.2 333.2H82.1ZM137.2 321.4L142.8 333.2H131.7ZM142.5 328.1L148 339.9H136.9ZM122.4 327.7L127.9 339.5H116.8ZM79.3 328.1L84.8 339.9H73.7ZM83 328.1L88.6 339.9H77.5ZM95.6 334.4L101.1 346.2H90ZM127 334.4L132.6 346.2H121.5ZM107.3 341.1L112.9 352.9H101.8ZM78.8 341.1L84.4 352.9H73.3ZM82.2 346.1L87.7 357.9H76.6ZM114.9 346.9L120.4 358.7H109.3ZM127 347.3L132.6 359.1H121.5ZM140 346.5L145.5 358.3H134.4ZM144.6 347.3L150.1 359.1H139ZM80.1 355.8L85.7 367.6H74.6ZM82.2 361.7L87.7 373.5H76.6ZM86.8 361.7L92.4 373.5H81.3ZM118.6 359.2L124.2 371H113.1ZM139.1 361.7L144.7 373.5H133.6ZM142.5 356.6L148 368.4H136.9ZM119.5 368.4L125 380.2H113.9ZM155.5 374.2L161 386H149.9ZM107.3 380.9L112.9 392.7H101.8ZM119.5 380.9L125 392.7H113.9ZM144.6 380.9L150.1 392.7H139ZM95.6 387.2L101.1 399H90ZM100.6 387.6L106.2 399.4H95.1ZM89.3 393.9L94.9 405.7H83.8ZM95.2 394.7L100.7 406.5H89.6ZM144.2 394.7L149.7 406.5H138.6ZM81.4 400.6L86.9 412.4H75.8ZM82.2 407.7L87.7 419.5H76.6ZM87.6 409.4L93.2 421.2H82.1ZM100.6 408.6L106.2 420.4H95.1ZM83.2 421.7L88.8 433.5H77.7ZM89.1 428.6L94.7 440.4H83.6ZM95.2 428.6L100.7 440.4H89.6ZM83.6 439.9L89.2 451.7H78.1ZM83.6 448.7L89.2 460.5H78.1ZM131.4 421.7L136.9 433.5H125.8ZM130.6 434.9L136.2 446.7H125.1ZM131 448L136.5 459.8H125.4ZM162.4 415.4L167.9 427.2H156.8ZM184.4 410.4L189.9 422.2H178.8ZM192.5 410.4L198.1 422.2H187ZM192.5 421.7L198.1 433.5H187ZM184.4 455.8L189.9 467.6H178.8ZM144.2 501.4L149.7 513.2H138.6ZM275.6 294.2L281.1 306H270ZM291.7 294.2L297.2 306H286.1ZM258 301.7L263.5 313.5H252.4ZM285.6 308L291.2 319.8H280.1ZM302 308L307.5 319.8H296.4ZM265.8 314.3L271.3 326.1H260.2ZM283.7 315.5L289.3 327.3H278.2ZM296.3 315.5L301.9 327.3H290.8ZM239.1 314.9L244.7 326.7H233.6ZM214.3 321.2L219.8 333H208.7ZM230.6 321.2L236.2 333H225.1ZM196.4 328.1L202 339.9H190.9ZM266.2 328.1L271.7 339.9H260.6ZM238.9 335L244.4 346.8H233.3ZM258 334.4L263.5 346.2H252.4ZM294.4 330.6L300 342.4H288.9ZM299.4 328.1L305 339.9H293.9ZM303.2 331.8L308.8 343.6H297.7ZM296.3 335.6L301.9 347.4H290.8ZM187.9 341.3L193.4 353.1H182.3ZM198.3 341.3L203.9 353.1H192.8ZM218.4 341.3L224 353.1H212.9ZM230.6 341.3L236.2 353.1H225.1ZM259.2 339.4L264.8 351.2H253.7ZM186.4 355.7L191.9 367.5H180.8ZM196.4 355.7L202 367.5H190.9ZM210.3 355.7L215.8 367.5H204.7ZM220.3 355.7L225.9 367.5H214.8ZM222.2 362L227.7 373.8H216.6ZM230.4 348.2L235.9 360H224.8ZM259.2 348.2L264.8 360H253.7ZM268 354.5L273.6 366.3H262.5ZM269.3 362L274.8 373.8H263.7ZM284.4 351.9L289.9 363.7H278.8ZM283.1 362L288.7 373.8H277.6ZM290.7 355.7L296.2 367.5H285.1ZM296.3 349.4L301.9 361.2H290.8ZM168.5 368.9L174.1 380.7H163ZM161.3 378.3L166.8 390.1H155.7ZM189.5 374.6L195.1 386.4H184ZM196.4 374.6L202 386.4H190.9ZM204 374.6L209.5 386.4H198.4ZM210.3 379.6L215.8 391.4H204.7ZM222.8 374.6L228.4 386.4H217.3ZM229.1 374.6L234.6 386.4H223.5ZM236 368.3L241.6 380.1H230.5ZM240.4 374.6L246 386.4H234.9ZM266.8 374.6L272.3 386.4H261.2ZM274.3 374.6L279.9 386.4H268.8ZM280.6 374.6L286.2 386.4H275.1ZM297.6 375.8L303.1 387.6H292ZM290.7 379.6L296.2 391.4H285.1ZM316.9 294.2L322.5 306H311.4ZM330.1 301.7L335.7 313.5H324.6ZM355.9 301.7L361.4 313.5H350.3ZM316.9 314.3L322.5 326.1H311.4ZM328.8 321.8L334.4 333.6H323.3ZM332 320.5L337.5 332.3H326.4ZM328.8 328.1L334.4 339.9H323.3ZM316.9 328.7L322.5 340.5H311.4ZM372.6 327.4L378.1 339.2H367ZM372.6 335.6L378.1 347.4H367ZM340.8 334.4L346.3 346.2H335.2ZM345.2 334.4L350.7 346.2H339.6ZM356.5 334.4L362 346.2H350.9ZM321.3 336.9L326.9 348.7H315.8ZM386.9 341.9L392.4 353.7H381.3ZM357.1 348.2L362.7 360H351.6ZM316.9 350.7L322.5 362.5H311.4ZM316.9 357L322.5 368.8H311.4ZM331.4 355.7L336.9 367.5H325.8ZM357.1 361.4L362.7 373.2H351.6ZM321.3 362L326.9 373.8H315.8ZM330.1 368.3L335.7 380.1H324.6ZM338.9 367L344.4 378.8H333.3ZM340.8 374.6L346.3 386.4H335.2ZM386.6 374.6L392.2 386.4H381.1ZM328.8 380.2L334.4 392H323.3ZM337 380.2L342.6 392H331.5ZM357.1 380.2L362.7 392H351.6ZM184.5 382.7L190 394.5H178.9ZM196.4 384.6L202 396.4H190.9ZM167.5 394.7L173.1 406.5H162ZM196.4 394.7L202 406.5H190.9ZM219 388.4L224.6 400.2H213.5ZM227.8 387.1L233.4 398.9H222.3ZM235.4 388.4L240.9 400.2H229.8ZM241.7 387.1L247.2 398.9H236.1ZM230.4 394.7L235.9 406.5H224.8ZM240.4 394.7L246 406.5H234.9ZM218.4 400.9L224 412.7H212.9ZM230.4 402.2L235.9 414H224.8ZM235.4 400.9L240.9 412.7H229.8ZM230.6 408.5L236.2 420.3H225.1ZM250.5 400.3L256 412.1H244.9ZM249.8 408.5L255.4 420.3H244.3ZM259.9 408.5L265.4 420.3H254.3ZM258 388.4L263.5 400.2H252.4ZM270.6 388.4L276.1 400.2H265ZM279.3 388.4L284.9 400.2H273.8ZM285.6 388.4L291.2 400.2H280.1ZM293.2 383.4L298.7 395.2H287.6ZM300.7 383.4L306.3 395.2H295.2ZM283.7 400.9L289.3 412.7H278.2ZM271.8 408.5L277.4 420.3H266.3ZM283.7 408.5L289.3 420.3H278.2ZM268.7 415.4L274.2 427.2H263.1ZM285.6 415.4L291.2 427.2H280.1ZM305.1 400.9L310.7 412.7H299.6ZM299.4 408.5L305 420.3H293.9ZM305.7 415.4L311.3 427.2H300.2ZM309.5 388.4L315 400.2H303.9ZM222.2 428.6L227.7 440.4H216.6ZM230.6 428.6L236.2 440.4H225.1ZM249.8 428.6L255.4 440.4H244.3ZM256.7 428.6L262.3 440.4H251.2ZM259.9 435.5L265.4 447.3H254.3ZM269.9 428.6L275.5 440.4H264.4ZM280 428.6L285.5 440.4H274.4ZM285.6 428.6L291.2 440.4H280.1ZM295.7 421.7L301.2 433.5H290.1ZM297.6 428.6L303.1 440.4H292ZM226.6 441.8L232.1 453.6H221ZM271.8 441.8L277.4 453.6H266.3ZM259.9 456.2L265.4 468H254.3ZM301.7 455.6L307.3 467.4H296.2ZM270.3 478.8L275.9 490.6H264.8ZM321.3 387.1L326.9 398.9H315.8ZM330.1 387.8L335.7 399.6H324.6ZM345.2 387.8L350.7 399.6H339.6ZM312.5 400.9L318.1 412.7H307ZM323.8 395.9L329.4 407.7H318.3ZM323.8 401.6L329.4 413.4H318.3ZM332 408.5L337.5 420.3H326.4ZM363.4 407.9L368.9 419.7H357.8ZM323.2 415.4L328.7 427.2H317.6ZM345.2 415.4L350.7 427.2H339.6ZM386.4 416L391.9 427.8H380.8ZM363.4 434.2L368.9 446H357.8Z"/>
<g fill="none" stroke-linecap="butt">
<line x1="84.7" y1="358.2" x2="1176.2" y2="315.4" stroke="#b7b7b7" stroke-opacity="0.77" stroke-width="3.7"/>
<line x1="88.5" y1="369.8" x2="1175.7" y2="267.7" stroke="#000" stroke-width="2.5"/>
<line x1="73.5" y1="596.7" x2="1174.9" y2="549.7" stroke="#b7b7b7" stroke-opacity="0.77" stroke-width="3.7"/>
<line x1="68.8" y1="587" x2="1169" y2="528.8" stroke="#000" stroke-width="2.8"/>
</g>
<path fill="none" stroke="#4a4a4a" stroke-width="1.35" d="M68.7 18.5V687.4H1187.9M68.7 687.4h-6.2M68.7 654h-4.8M68.7 620.6h-4.8M68.7 587.2h-4.8M68.7 553.7h-4.8M68.7 520.3h-6.2M68.7 486.9h-4.8M68.7 453.5h-4.8M68.7 420.1h-4.8M68.7 386.7h-4.8M68.7 353.2h-6.2M68.7 319.8h-4.8M68.7 286.4h-4.8M68.7 253h-4.8M68.7 219.6h-4.8M68.7 186.2h-6.2M68.7 152.8h-4.8M68.7 119.3h-4.8M68.7 85.9h-4.8M68.7 52.5h-4.8M68.7 19.1h-6.2M68.7 687.4v6.5M86.7 687.4v4.4M104.8 687.4v4.4M122.8 687.4v6.5M140.9 687.4v4.4M158.9 687.4v4.4M176.9 687.4v6.5M195 687.4v4.4M213 687.4v4.4M231.1 687.4v6.5M249.1 687.4v4.4M267.2 687.4v4.4M285.2 687.4v6.5M303.2 687.4v4.4M321.3 687.4v4.4M339.3 687.4v6.5M357.4 687.4v4.4M375.4 687.4v4.4M393.4 687.4v6.5M411.5 687.4v4.4M429.5 687.4v4.4M447.6 687.4v6.5M465.6 687.4v4.4M483.7 687.4v4.4M501.7 687.4v6.5M519.7 687.4v4.4M537.8 687.4v4.4M555.8 687.4v6.5M573.9 687.4v4.4M591.9 687.4v4.4M610 687.4v6.5M628 687.4v4.4M646 687.4v4.4M664.1 687.4v6.5M682.1 687.4v4.4M700.2 687.4v4.4M718.2 687.4v6.5M736.2 687.4v4.4M754.3 687.4v4.4M772.3 687.4v6.5M790.4 687.4v4.4M808.4 687.4v4.4M826.5 687.4v6.5M844.5 687.4v4.4M862.5 687.4v4.4M880.6 687.4v6.5M898.6 687.4v4.4M916.7 687.4v4.4M934.7 687.4v6.5M952.7 687.4v4.4M970.8 687.4v4.4M988.8 687.4v6.5M1006.9 687.4v4.4M1024.9 687.4v4.4M1043 687.4v6.5M1061 687.4v4.4M1079 687.4v4.4M1097.1 687.4v6.5M1115.1 687.4v4.4M1133.2 687.4v4.4M1151.2 687.4v6.5M1169.2 687.4v4.4M1187.3 687.4v4.4"/>
<g font-family="'Liberation Serif','Times New Roman',serif" fill="#000">
<g font-size="20.4" text-anchor="end" stroke="#000" stroke-width="0.3">
<text transform="translate(51 694.7) scale(1 1.05)">10</text>
<text transform="translate(51 527.6) scale(1 1.05)">15</text>
<text transform="translate(51 360.6) scale(1 1.05)">20</text>
<text transform="translate(51 193.5) scale(1 1.05)">25</text>
<text transform="translate(51 26.4) scale(1 1.05)">30</text>
</g><g font-size="20.2" text-anchor="middle" stroke="#000" stroke-width="0.3">
<text transform="translate(68.3 722.2) scale(1 1.05)">0</text>
<text transform="translate(122.4 722.2) scale(1 1.05)">36</text>
<text transform="translate(176.5 722.2) scale(1 1.05)">72</text>
<text transform="translate(230.7 722.2) scale(1 1.05)">108</text>
<text transform="translate(284.8 722.2) scale(1 1.05)">144</text>
<text transform="translate(338.9 722.2) scale(1 1.05)">180</text>
<text transform="translate(393.1 722.2) scale(1 1.05)">216</text>
<text transform="translate(447.2 722.2) scale(1 1.05)">252</text>
<text transform="translate(501.3 722.2) scale(1 1.05)">288</text>
<text transform="translate(555.4 722.2) scale(1 1.05)">324</text>
<text transform="translate(609.6 722.2) scale(1 1.05)">360</text>
<text transform="translate(663.7 722.2) scale(1 1.05)">396</text>
<text transform="translate(717.8 722.2) scale(1 1.05)">432</text>
<text transform="translate(771.9 722.2) scale(1 1.05)">468</text>
<text transform="translate(826.1 722.2) scale(1 1.05)">504</text>
<text transform="translate(880.2 722.2) scale(1 1.05)">540</text>
<text transform="translate(934.3 722.2) scale(1 1.05)">576</text>
<text transform="translate(988.4 722.2) scale(1 1.05)">612</text>
<text transform="translate(1042.5 722.2) scale(1 1.05)">648</text>
<text transform="translate(1096.7 722.2) scale(1 1.05)">684</text>
<text transform="translate(1150.8 722.2) scale(1 1.05)">720</text>
</g>
<text x="709.3" y="766" font-size="31.1" text-anchor="middle" stroke="#000" stroke-width="0.3">Age (months)</text>
<text transform="translate(28.8 350) rotate(-90)" font-size="30.85" text-anchor="middle" stroke="#000" stroke-width="0.3">P and N Latencies (msec)</text>
<g font-size="20.5" stroke="#000" stroke-width="0.25">
<text x="875.7" y="30">P latency AC</text><text x="876" y="82.5">N latency AC</text>
<text x="1064.6" y="30">P latency BC</text><text x="1064.6" y="82.5">N latency BC</text>
</g></g>
<ellipse cx="841.6" cy="22.3" rx="17.2" ry="15.9" fill="#000"/>
<ellipse cx="841.3" cy="73.3" rx="16.5" ry="14.6" fill="#fff" stroke="#000" stroke-width="2"/>
<path d="M1023.3 9.5L1039.3 38.9H1006.8Z" fill="#fff" stroke="#000" stroke-width="2"/>
<path d="M1021.6 57L1040.9 88.4H1003.2Z" fill="#000"/>
</svg>
</body></html>
